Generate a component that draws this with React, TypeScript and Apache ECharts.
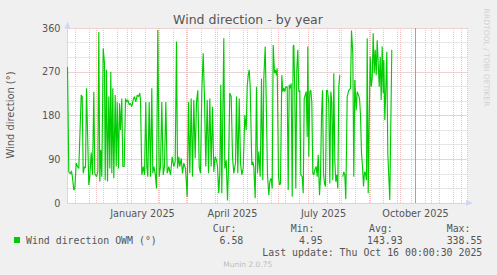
import React, { useEffect, useRef } from 'react';
import * as echarts from 'echarts';

// ---- data ----
const RANGE_START_UTC = Date.UTC(2024, 10, 2); // first day shown on the x axis
const RANGE_DAYS = 400;
const NOW_DAY = 348; // 2025-10-16, days after range start
const MINOR_GRID_FIRST = 8; // 2024-11-10, two-week minor grid anchor
const MINOR_GRID_STEP = 14;

// days after range start
const sampleDays = [
  0, 1.3, 3, 4, 5, 6.3, 7.3, 8.7, 10, 11.3,
  13.7, 14.7, 15.7, 17, 18, 19, 21.3, 22.3, 23.7, 25,
  26.3, 27.3, 29, 30.3, 31.3, 32.3, 33.3, 34.3, 35.7, 37,
  37.7, 39, 40, 41.3, 42.3, 43.3, 44.3, 45.3, 46.3, 47.7,
  48.7, 49.7, 51, 52, 53, 54.3, 55.3, 56.7, 58, 59,
  60.3, 61.7, 63, 64.3, 65.7, 67, 68.3, 69.7, 71, 72.3,
  73, 74.3, 75.7, 77, 78.3, 79.3, 80.3, 81.7, 83, 84.3,
  85.3, 86.3, 87.7, 89, 90.3, 91.7, 93, 94.3, 95.7, 97,
  98.3, 99.7, 101.3, 103, 104.7, 106.3, 107.7, 109, 110, 111.3,
  112.3, 113.7, 115, 116.3, 118, 119.7, 121, 122.3, 123.7, 125,
  126.3, 127.7, 129, 130.3, 131.7, 133, 134.3, 135.7, 137, 138.3,
  139.7, 141, 142.3, 143.7, 145, 146.3, 147.7, 149, 150, 151.3,
  152.3, 153.3, 154.3, 155.3, 156.3, 157.3, 158.7, 160, 161, 162.3,
  163.7, 165, 166.3, 168, 169, 170.3, 171.7, 173, 174.3, 175.7,
  177.3, 178.7, 179.7, 180.7, 181.7, 182.7, 184.3, 185.3, 186.3, 187.7,
  189, 190, 191.3, 192.7, 194, 195.3, 196.3, 197.7, 198.7, 200,
  201.3, 202.3, 203.7, 204.7, 205.7, 207, 208, 209, 209.7, 211,
  212, 213, 214.3, 215.3, 216.3, 217.3, 218.3, 219.7, 220.7, 221.7,
  222.7, 223.7, 224.7, 225.7, 226.3, 227.3, 228.3, 229.3, 230.3, 231.3,
  232.3, 233.3, 234.7, 235.7, 236.7, 237.7, 238.7, 239.7, 240.3, 241.3,
  242.3, 243.3, 244.3, 245.3, 246.3, 247.3, 248.7, 249.7, 250.7, 252,
  253, 254, 255, 256, 257, 258, 259, 260, 261.3, 262.3,
  263.3, 264.3, 265.3, 266.3, 267.3, 268.3, 269.3, 270.3, 271.3, 272.3,
  273.8, 275.3, 276.3, 277.3, 278.3, 279.7, 281.3, 283, 284, 285.3,
  286.3, 287.3, 288.7, 289.7, 291, 292, 293, 294, 295, 296,
  297, 298, 299, 299.7, 300.7, 301.7, 302.7, 303.7, 304.7, 305.7,
  306.7, 307.7, 308.7, 309.7, 310.7, 311.7, 312.7, 313.7, 314.7, 315.7,
  316.3, 317.3, 318.3, 319.3, 320.3, 321.3, 322.3, 324.3,
];

// wind direction in degrees (null = missing)
const windDeg: (number | null)[] = [
  280, 64, 60, 66, 52, 27, 29, 82, 75, 71,
  222, 219, 61, 75, 72, 236, 37, 54, 104, 58,
  229, 61, 54, 64, 352, 44, 109, 54, 318, 287,
  47, 274, 44, 219, 71, 270, 61, 236, 51, 222,
  75, 208, 71, 205, 150, 215, 75, 75, 215, 208,
  212, 202, 205, 198, 212, 219, 208, 222, 219, 226,
  212, 58, 75, 58, 208, 75, 54, 208, 54, 236,
  61, 75, 61, 30, 356, 54, 75, 208, 58, 75,
  208, 61, 75, 58, 95, 75, 85, 332, 71, 95,
  75, 92, 61, 82, 71, 13, 208, 61, 215, 54,
  212, 92, 208, 232, 75, 61, 229, 308, 215, 75,
  212, 61, 215, 75, 198, 64, 95, 88, 75, 20,
  61, 243, 20, 181, 339, 71, 88, 5, 75, 226,
  219, 95, 61, 82, 219, 61, 215, 82, 58, 71,
  181, 150, 239, 263, 274, 239, 78, 85, 75, 10,
  239, 61, 106, 54, 256, 47, 256, 322, 215, 58,
  16, 44, 51, 30, 325, 267, 274, 263, 277, 54,
  37, 40, 263, 229, 236, 229, 239, 239, 27, 243,
  236, 246, 13, 322, 325, 229, 30, 274, 315, 229,
  232, 58, 54, 20, 215, 222, 229, 136, 322, 95,
  229, 232, 208, 61, 58, 68, 75, 54, 99, 16,
  54, 178, 232, 61, 40, 34, 232, 232, 205, 40,
  229, 208, 47, 267, 88, 44, 58, 30, 239, 263,
  null, 54, 64, 58, 8, 219, 232, 236, 355, 307,
  54, 253, 191, 229, 222, 215, 181, 102, 75, 34,
  64, 61, 47, 339, 20, 171, 301, 239, 257, 349,
  267, 315, 263, 335, 287, 239, 301, 212, 322, 226,
  294, 171, 232, 311, 102, 54, 6, 315,
];

const xLabelDates = ['2025-01-16', '2025-04-16', '2025-07-16', '2025-10-16'];
const xLabelTexts = ['January 2025', 'April 2025', 'July 2025', 'October 2025'];

const chartTitle = 'Wind direction - by year';
const yAxisTitle = 'Wind direction (°)';
const legendName = 'Wind direction OWM (°)';
const statHeads = ['Cur:', 'Min:', 'Avg:', 'Max:'];
const statValues = ['6.58', '4.95', '143.93', '338.55'];
const lastUpdate = 'Last update: Thu Oct 16 00:00:30 2025';
const footer = 'Munin 2.0.75';
const watermark = 'RRDTOOL / TOBI OETIKER';

// ---- styling ----
const LINE_GREEN = '#00cc00';
const FONT_COLOR = '#555555';
const AXIS_COLOR = '#cfd6f8';
const MAJOR_GRID = '#f2bebe';
const MINOR_GRID = '#cfcfcf';
const NOW_COLOR = '#a3a3a3';
const SANS = '"DejaVu Sans"';
const MONO = '"DejaVu Sans Mono"';

const statHeadLeft = [212.7, 290.7, 369, 446.7];
const statValueRight = [243.3, 322.7, 402.7, 482.3];

function dayString(i: number): string {
  return new Date(RANGE_START_UTC + i * 86400000).toISOString().slice(0, 10);
}

function verticalSegments(days: number[]) {
  const out: any[] = [];
  days.forEach((d) => {
    out.push([d, 0], [d, 360], [d, '-']);
  });
  return out;
}

function txt(text: string, x: number, y: number, font: string, align: string, fill = FONT_COLOR, extra: any = {}) {
  return {
    type: 'text',
    x,
    y,
    silent: true,
    ...extra,
    style: {
      text,
      x: 0,
      y: 0,
      font,
      fill,
      align,
      verticalAlign: 'middle',
      textAlign: align,
      textVerticalAlign: 'middle',
    },
  };
}

export default function App() {
  const ref = useRef<HTMLDivElement>(null);

  useEffect(() => {
    if (!ref.current) return;
    const chart = echarts.init(ref.current, undefined, { renderer: 'svg' });

    const categories: string[] = [];
    for (let i = 0; i <= RANGE_DAYS; i++) categories.push(dayString(i));

    const monthStartDays: number[] = [];
    categories.forEach((c, i) => {
      if (c.slice(8) === '01') monthStartDays.push(i);
    });
    const minorDays: number[] = [];
    for (let d = MINOR_GRID_FIRST; d <= RANGE_DAYS; d += MINOR_GRID_STEP) minorDays.push(d);

    const seriesData = sampleDays.map((d, i) => [d, windDeg[i] === null ? '-' : windDeg[i]]);

    const graphic: any[] = [
      txt(chartTitle, 248, 19, `12.5px ${SANS}`, 'center'),
      txt(yAxisTitle, 10, 115, `9.9px ${SANS}`, 'center', FONT_COLOR, { rotation: Math.PI / 2 }),
      {
        type: 'rect',
        silent: true,
        shape: { x: 14, y: 237, width: 6, height: 6 },
        style: { fill: LINE_GREEN },
      },
      txt(legendName, 26, 240.5, `9.9px ${MONO}`, 'left'),
      txt(lastUpdate, 482.3, 252, `9.9px ${MONO}`, 'right'),
      txt(footer, 247.8, 264, `7.5px ${SANS}`, 'center', '#bdbdbd'),
      txt(watermark, 486.7, 57.5, `7.6px ${SANS}`, 'center', '#d0d0d0', { rotation: -Math.PI / 2 }),
    ];
    statHeads.forEach((h, i) => graphic.push(txt(h, statHeadLeft[i], 228, `9.9px ${MONO}`, 'left')));
    statValues.forEach((v, i) => graphic.push(txt(v, statValueRight[i], 240.5, `9.9px ${MONO}`, 'right')));

    const gridSeries = (data: any[], color: string, dash: any, z: number) => ({
      type: 'line',
      xAxisIndex: 1,
      yAxisIndex: 0,
      data,
      silent: true,
      showSymbol: false,
      connectNulls: false,
      z,
      lineStyle: { color, type: dash, width: 1 },
      tooltip: { show: false },
    });

    const option: any = {
      animation: false,
      backgroundColor: '#f0f0f0',
      grid: {
        left: 67.5,
        right: 29.5,
        top: 28,
        bottom: 72,
        show: true,
        backgroundColor: '#ffffff',
        borderWidth: 0,
        containLabel: false,
      },
      xAxis: [
        {
          type: 'category',
          data: categories,
          boundaryGap: false,
          position: 'bottom',
          z: 1,
          axisLine: {
            show: true,
            lineStyle: { color: AXIS_COLOR, width: 1 },
            symbol: ['none', 'triangle'],
            symbolSize: [6, 7],
            symbolOffset: [0, 2],
          },
          axisTick: { show: false },
          axisLabel: {
            interval: (_i: number, v: string) => xLabelDates.indexOf(v) >= 0,
            formatter: (v: string) => xLabelTexts[xLabelDates.indexOf(v)] || '',
            color: FONT_COLOR,
            fontFamily: 'DejaVu Sans',
            fontSize: 9.7,
            margin: 5,
          },
          splitLine: { show: false },
        },
        {
          type: 'value',
          min: 0,
          max: RANGE_DAYS,
          show: false,
          splitLine: { show: false },
        },
      ],
      yAxis: [
        {
          type: 'value',
          min: 0,
          max: 360,
          interval: 90,
          z: 1,
          axisLine: {
            show: true,
            lineStyle: { color: AXIS_COLOR, width: 1 },
            symbol: ['none', 'triangle'],
            symbolSize: [6, 7],
            symbolOffset: [0, 3],
          },
          axisTick: { show: false },
          axisLabel: {
            color: FONT_COLOR,
            fontFamily: 'DejaVu Sans',
            fontSize: 9.7,
            margin: 7,
          },
          splitLine: {
            show: true,
            lineStyle: { color: MAJOR_GRID, type: [1, 1], width: 1 },
          },
        },
        {
          type: 'value',
          min: 0,
          max: 360,
          interval: 30,
          z: 0,
          axisLine: { show: false },
          axisTick: { show: false },
          axisLabel: { show: false },
          splitLine: {
            show: true,
            lineStyle: { color: MINOR_GRID, type: [1, 1], width: 1 },
          },
        },
      ],
      series: [
        gridSeries(verticalSegments(minorDays), MINOR_GRID, [1, 1], 0),
        gridSeries(verticalSegments(monthStartDays), MAJOR_GRID, [1, 1], 1),
        gridSeries(verticalSegments([NOW_DAY]), NOW_COLOR, 'solid', 1),
        {
          type: 'line',
          name: legendName,
          xAxisIndex: 1,
          yAxisIndex: 0,
          data: seriesData,
          showSymbol: false,
          connectNulls: false,
          z: 3,
          lineStyle: { color: LINE_GREEN, width: 1.15 },
        },
      ],
      graphic,
    };

    chart.setOption(option);
    return () => chart.dispose();
  }, []);

  return (
    <div
      ref={ref}
      style={{ position: 'fixed', left: 0, top: 0, width: 497, height: 275 }}
    />
  );
}
